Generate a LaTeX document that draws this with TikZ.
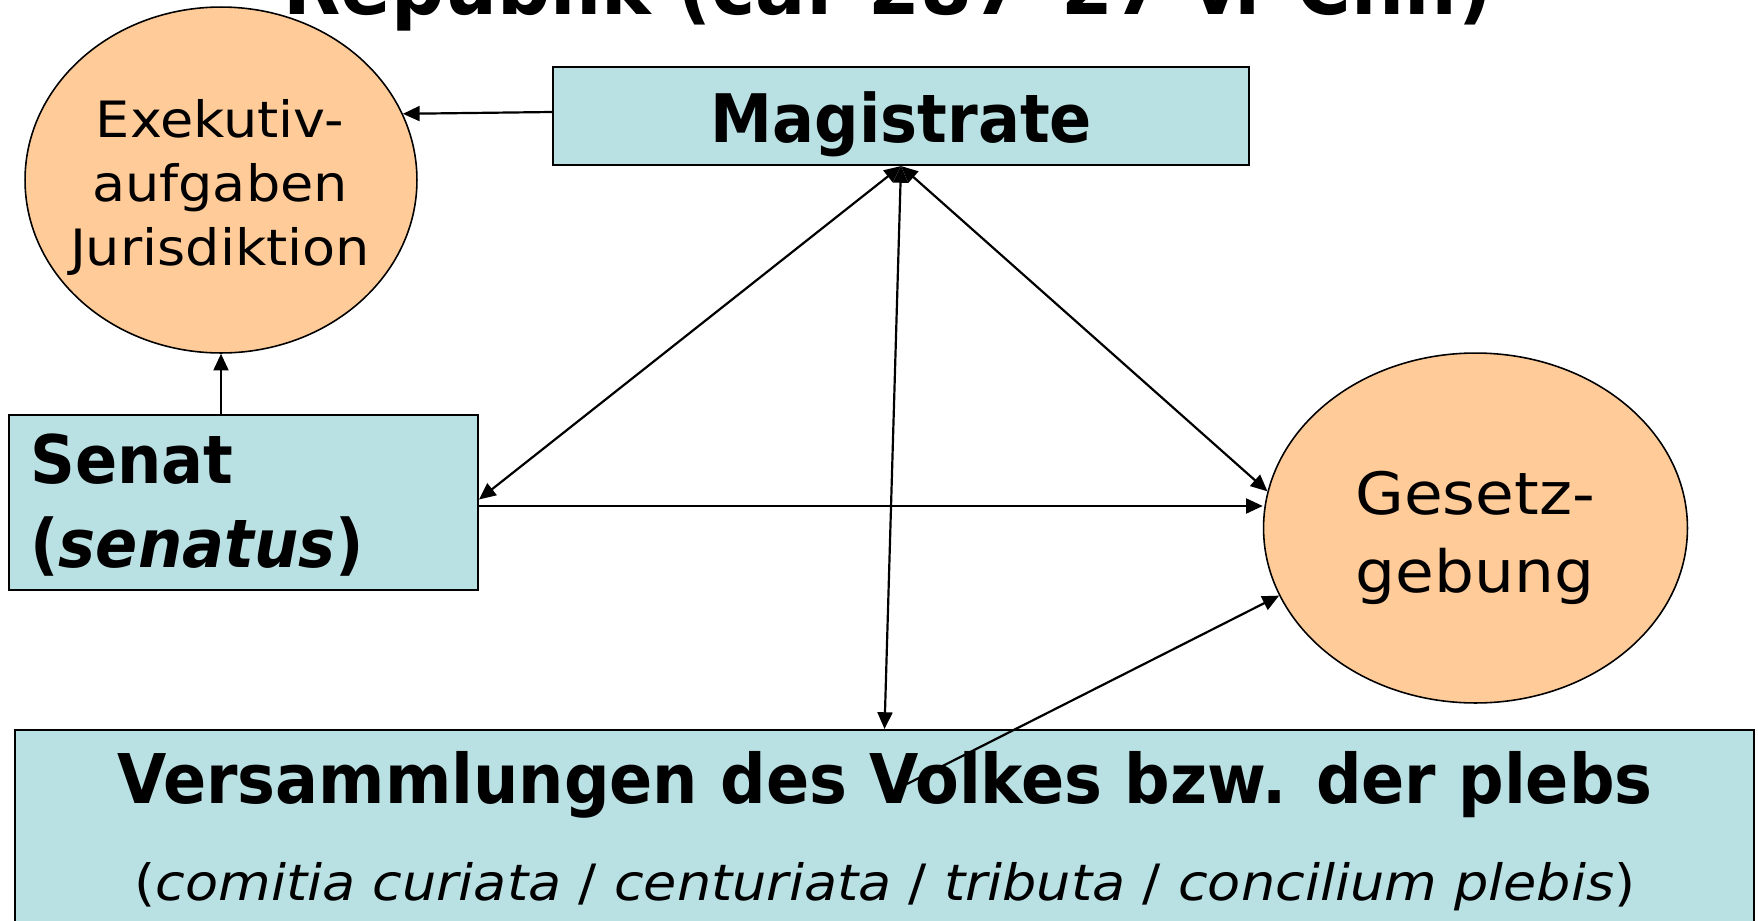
\documentclass[tikz,border=0pt]{standalone}
\usepackage{fontspec}
\setmainfont{DejaVu Sans}[FakeStretch=1.08]
\newfontfamily\bfam{DejaVu Sans}[FakeStretch=0.93]
\usetikzlibrary{shapes.geometric,arrows.meta,calc}
\definecolor{boxblue}{RGB}{185,224,227}
\definecolor{ellorange}{RGB}{255,204,153}
\tikzset{
  boxnode/.style={draw=black, line width=1.2pt, fill=boxblue, rectangle, inner sep=0pt},
  ellnode/.style={draw=black, line width=0.9pt, fill=ellorange, ellipse, inner sep=0pt},
  txt/.style={inner sep=0pt},
  arr/.style={line width=1.25pt, -{Triangle[length=9.5pt,width=8.5pt]}},
  darr/.style={line width=1.25pt, {Triangle[length=9.5pt,width=8.5pt]}-{Triangle[length=9.5pt,width=8.5pt]}},
  boldtxt/.style={txt, font=\bfam\bfseries\fontsize{38.1pt}{47.8pt}\selectfont},
}
\begin{document}
\begin{tikzpicture}[x=0.02cm,y=-0.02cm]
\useasboundingbox (0,0) rectangle (1758,920);
\clip (0,0) rectangle (1758,920);
\fill[white] (0,0) rectangle (1758,920);

% shapes
\node[ellnode, minimum width=7.84cm, minimum height=6.92cm] (exe) at (221,180) {};
\node[ellnode, minimum width=8.48cm, minimum height=7.0cm] (ges) at (1475.5,528) {};
\node[boxnode, minimum width=13.92cm, minimum height=1.96cm] (mag) at (901,116) {};
\node[boxnode, minimum width=9.38cm, minimum height=3.5cm] (sen) at (243.5,502.5) {};
\node[boxnode, minimum width=34.78cm, minimum height=4.6cm] (vers) at (884.5,845) {};

% title (cut off at the top)
\node[txt, anchor=base, font=\bfam\bfseries\fontsize{45.6pt}{50pt}\selectfont] (title) at (888,14) {Republik (ca. 287–27 v. Chr.)};

% texts (base anchor = baseline of the last line)
\node[txt, anchor=base, align=center, font=\fontsize{28.5pt}{36.4pt}\selectfont] (exetxt) at (220,265) {Exekutiv-\\aufgaben\\Jurisdiktion};
\node[txt, anchor=base, align=center, font=\fontsize{33.2pt}{44.4pt}\selectfont] (gestxt) at (1475,592) {Gesetz-\\gebung};
\node[boldtxt, anchor=base] (magtxt) at (901.5,142) {Magistrate};
\node[boldtxt, anchor=base west, align=left] (sentxt) at (30,567) {Senat\\(\textit{senatus})};
\node[txt, anchor=base, font=\bfam\bfseries\fontsize{39.0pt}{45pt}\selectfont] (verstxt) at (885,803) {Versammlungen des Volkes bzw. der plebs};
\node[txt, anchor=base, font=\fontsize{28.5pt}{34pt}\selectfont] (verssub) at (885,900) {(\textit{comitia curiata} / \textit{centuriata} / \textit{tributa} / \textit{concilium plebis})};

% connectors
\coordinate (senr) at ($(sen.east)+(0,3.5)$);
\coordinate (senu) at ($(sen.east)+(0,-3)$);
\coordinate (magl) at ($(mag.west)+(0,-4)$);
\coordinate (vstart) at (907,784);
\draw[arr] (magl) -- (exe.20.7);
\draw[arr] (exe.south |- sen.north) -- (exe.south);
\draw[darr] (mag.south) -- (senu);
\draw[darr] (mag.south) -- (ges.170);
\draw[darr] (mag.south) -- (vers.north);
\draw[arr] (senr) -- (senr -| ges.west);
\draw[arr] (vstart) -- (ges.199);
\end{tikzpicture}
\end{document}
